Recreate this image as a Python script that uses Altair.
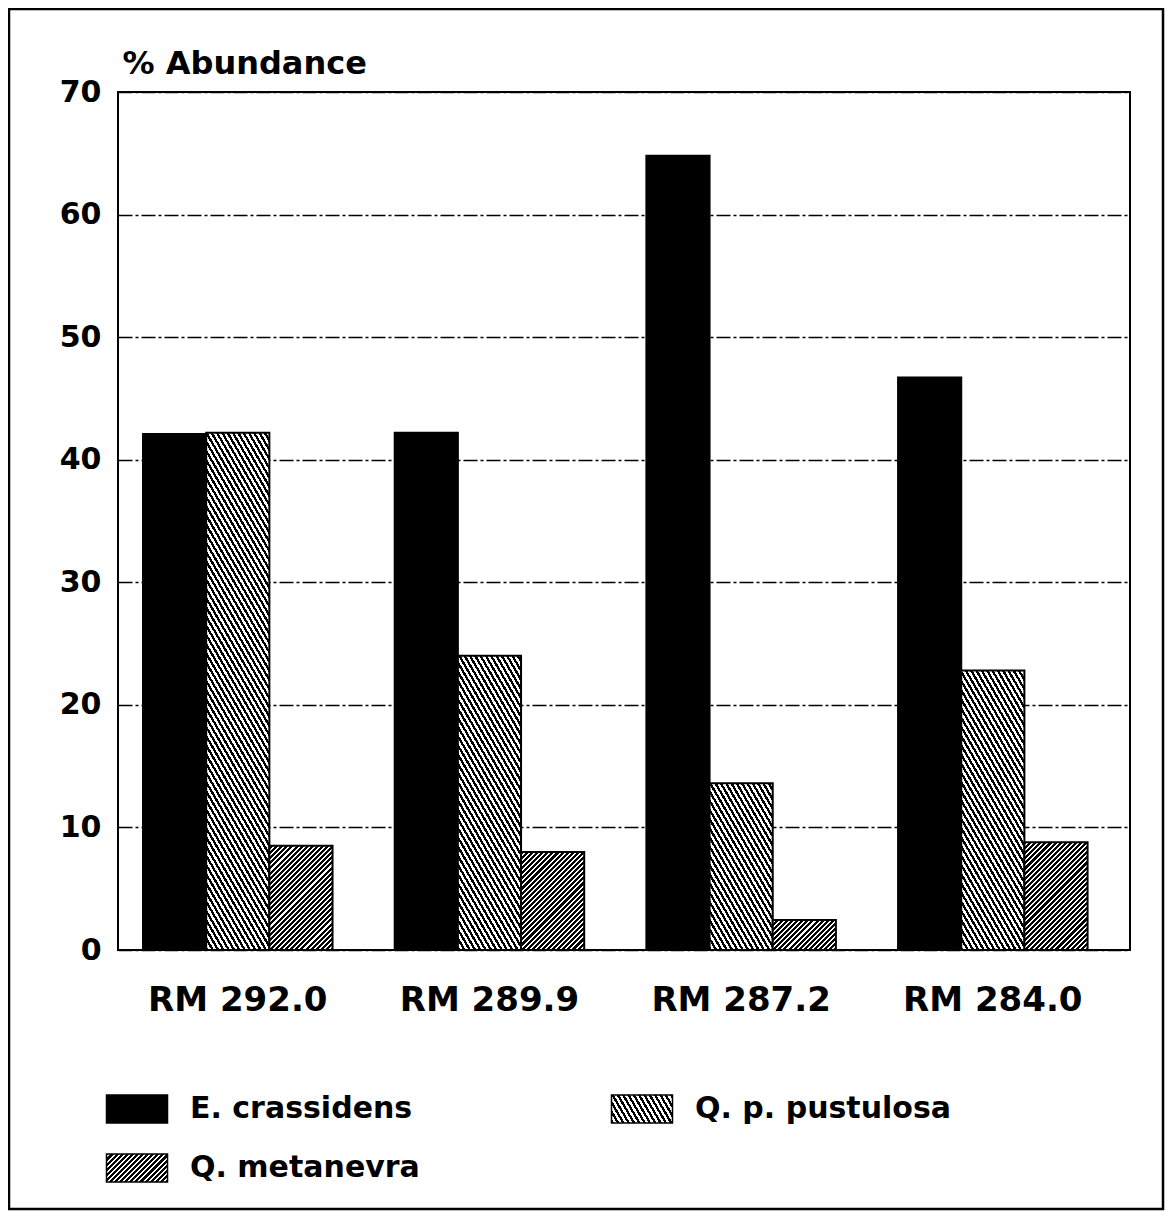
import math
import altair as alt
import pandas as pd

# ---------------- data ----------------
sites = ["RM 292.0", "RM 289.9", "RM 287.2", "RM 284.0"]
series_names = ["E. crassidens", "Q. p. pustulosa", "Q. metanevra"]
e_crassidens = [42.1, 42.2, 64.8, 46.7]
q_pustulosa = [42.2, 24.0, 13.6, 22.8]
q_metanevra = [8.5, 8.0, 2.45, 8.8]
y_ticks = [0, 10, 20, 30, 40, 50, 60, 70]
legend_col = [0, 1, 0]
legend_row = [0, 0, 1]

# ---------------- layout / style ----------------
FONT = "DejaVu Sans"
PLOT_W, PLOT_H = 1012, 858
Y_MAX = 70
PAD_IN, PAD_OUT, ALIGN = 0.247, 0.134, 0.371
step = PLOT_W / (len(sites) - PAD_IN + 2 * PAD_OUT)
BAR_W = step * (1 - PAD_IN) / len(series_names)
SYM_W, SYM_H = 61, 28

# hatch styles: stripe angle (deg, screen coords, y down), period px, black duty
HATCH = {
    "Q. p. pustulosa": (60, 4.6, 0.5),
    "Q. metanevra": (-45, 3.6, 0.6),
}


def hatch_gradient(w, h, angle_deg, period, duty):
    th = math.radians(angle_deg)
    nx, ny = math.sin(th), -math.cos(th)
    L = w * abs(nx) + h * abs(ny)
    k = L / (w * w * nx * nx + h * h * ny * ny)
    x1 = 0.0 if nx >= 0 else 1.0
    y1 = 0.0 if ny >= 0 else 1.0
    x2 = x1 + k * w * nx
    y2 = y1 + k * h * ny
    n = L / period
    stops = []
    i = 0
    while i < n:
        o0 = round(min(i / n, 1.0), 5)
        o1 = round(min((i + duty) / n, 1.0), 5)
        o2 = round(min((i + 1) / n, 1.0), 5)
        stops += [
            {"offset": o0, "color": "black"},
            {"offset": o1, "color": "black"},
            {"offset": o1, "color": "white"},
            {"offset": o2, "color": "white"},
        ]
        i += 1
    return {
        "gradient": "linear",
        "x1": round(x1, 5), "y1": round(y1, 5),
        "x2": round(x2, 5), "y2": round(y2, 5),
        "stops": stops,
    }


rows = []
for s, a, b, c in zip(sites, e_crassidens, q_pustulosa, q_metanevra):
    rows.append({"site": s, "series": series_names[0], "value": a})
    rows.append({"site": s, "series": series_names[1], "value": b})
    rows.append({"site": s, "series": series_names[2], "value": c})
df = pd.DataFrame(rows)

base = alt.Chart(df).encode(
    x=alt.X(
        "site:N",
        sort=sites,
        scale=alt.Scale(domain=sites, paddingInner=PAD_IN, paddingOuter=PAD_OUT, align=ALIGN),
        axis=alt.Axis(
            title=None, ticks=False, domain=False, grid=False, labelAngle=0,
            labelFont=FONT, labelFontSize=34, labelFontWeight="bold",
            labelColor="black", labelPadding=33,
        ),
    ),
    xOffset=alt.XOffset(
        "series:N", sort=series_names,
        scale=alt.Scale(domain=series_names, paddingInner=0, paddingOuter=0),
    ),
    y=alt.Y(
        "value:Q",
        scale=alt.Scale(domain=[0, Y_MAX], nice=False),
        axis=alt.Axis(
            values=y_ticks, grid=True, gridColor="black", gridWidth=1.3,
            gridDash=[14, 3, 3, 3], ticks=False, domain=False,
            labelFont=FONT, labelFontSize=30, labelFontWeight="bold",
            labelColor="black", labelPadding=17,
            title="% Abundance", titleAngle=0, titleX=4, titleY=-19,
            titleAlign="left", titleBaseline="alphabetic",
            titleFont=FONT, titleFontSize=32, titleFontWeight="bold",
            titleColor="black",
        ),
    ),
)

bar_layers = [
    base.transform_filter(alt.datum.series == series_names[0]).mark_bar(
        fill="black", stroke="black", strokeWidth=2
    )
]
for ser, vals in ((series_names[1], q_pustulosa), (series_names[2], q_metanevra)):
    ang, per, duty = HATCH[ser]
    for s, v in zip(sites, vals):
        h = v * PLOT_H / Y_MAX
        grad = hatch_gradient(BAR_W, h, ang, per, duty)
        bar_layers.append(
            base.transform_filter(
                (alt.datum.series == ser) & (alt.datum.site == s)
            ).mark_bar(fill=grad, stroke="black", strokeWidth=2)
        )
bars = alt.layer(*bar_layers)

# ---------------- legend ----------------
leg_df = pd.DataFrame({"series": series_names, "col": legend_col, "row": legend_row})
leg_base = alt.Chart(leg_df).encode(
    x=alt.X("col:Q", scale=alt.Scale(domain=[0, 1], range=[19, 524]), axis=None),
    y=alt.Y("row:Q", scale=alt.Scale(domain=[0, 1], range=[1017, 1076]), axis=None),
)
r = SYM_H / SYM_W
sym_path = f"M-1,{-r:.3f}L1,{-r:.3f}L1,{r:.3f}L-1,{r:.3f}Z"
leg_layers = [
    leg_base.transform_filter(alt.datum.series == series_names[0]).mark_point(
        shape=sym_path, size=SYM_W ** 2, filled=True, fill="black",
        stroke="black", strokeWidth=1.5, opacity=1,
    )
]
for ser in series_names[1:]:
    ang, per, duty = HATCH[ser]
    leg_layers.append(
        leg_base.transform_filter(alt.datum.series == ser).mark_point(
            shape=sym_path, size=SYM_W ** 2, filled=True,
            fill=hatch_gradient(SYM_W, SYM_H, ang, per, duty),
            stroke="black", strokeWidth=1.5, opacity=1,
        )
    )
leg_layers.append(
    leg_base.mark_text(
        align="left", baseline="middle", dx=53, font=FONT, fontSize=30,
        fontWeight="bold", color="black",
    ).encode(text="series:N")
)
legend = alt.layer(*leg_layers)

# ---------------- outer frame ----------------
frame = alt.Chart(alt.Data(values=[{"k": 1}])).mark_rect(
    fillOpacity=0, stroke="black", strokeWidth=2.5
).encode(
    x=alt.value(-109), x2=alt.value(1045), y=alt.value(-83), y2=alt.value(1117)
)

chart = (
    alt.layer(bars, legend, frame)
    .resolve_scale(x="independent", y="independent")
    .properties(
        width=PLOT_W,
        height=PLOT_H,
        padding={"left": 110, "top": 84, "right": 35, "bottom": 261},
        autosize=alt.AutoSizeParams(type="none"),
        background="white",
    )
    .configure_view(stroke="black", strokeWidth=2)
)

chart.save("out.html", embed_options={"renderer": "svg", "actions": False})
